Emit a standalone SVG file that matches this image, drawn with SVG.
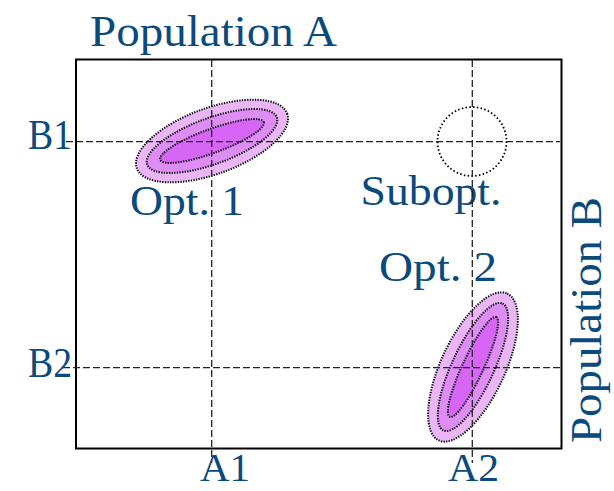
<svg xmlns="http://www.w3.org/2000/svg" width="614" height="491" viewBox="0 0 614 491">
<style>
.lbl{font-family:"Liberation Serif","DejaVu Serif",serif;fill:#0b4a7d;}
.big{font-size:45px;}
.ax{font-size:42px;}
.bot{font-size:41px;}
.grid{stroke:#222;stroke-width:1.3;stroke-dasharray:7,3;fill:none;}
.c1{fill:#eab6f8;stroke:#000;stroke-width:2;stroke-dasharray:1.3,1.3;}
.c2{fill:#dd8df5;stroke:#000;stroke-width:2;stroke-dasharray:1.3,1.3;}
.c3{fill:#d766f7;stroke:#000;stroke-width:2;stroke-dasharray:1.3,1.3;}
</style>
<rect width="614" height="491" fill="#fff"/>
<g id="frame"><rect x="76" y="59.5" width="485.5" height="389" fill="none" stroke="#000" stroke-width="2"/></g>
<g id="opt1">
<g transform="translate(212,141) rotate(-20)">
<ellipse class="c1" rx="80" ry="33"/>
<ellipse class="c2" rx="69" ry="23"/>
<ellipse class="c3" rx="55" ry="12"/>
</g>
<text class="lbl ax" x="130" y="215" textLength="114" lengthAdjust="spacingAndGlyphs">Opt. 1</text>
</g>
<g id="opt2">
<g transform="translate(473,367) rotate(-65)">
<ellipse class="c1" rx="81" ry="32"/>
<ellipse class="c2" rx="70" ry="21"/>
<ellipse class="c3" rx="55" ry="10.5"/>
</g>
<text class="lbl ax" x="379" y="281" textLength="118" lengthAdjust="spacingAndGlyphs">Opt. 2</text>
</g>
<g id="subopt">
<circle cx="472" cy="141.5" r="34.5" fill="none" stroke="#000" stroke-width="1.8" stroke-dasharray="1.5,2.3"/>
<text class="lbl ax" x="360.5" y="205" textLength="141" lengthAdjust="spacingAndGlyphs">Subopt.</text>
</g>
<g id="connectors">
<line class="grid" x1="211.7" y1="60" x2="211.7" y2="463"/>
<line class="grid" x1="472.3" y1="60" x2="472.3" y2="463"/>
<line class="grid" x1="66" y1="141.7" x2="560" y2="141.7"/>
<line class="grid" x1="63" y1="367.7" x2="560" y2="367.7"/>
</g>
<g id="labels">
<text class="lbl big" x="90" y="45.5" textLength="247" lengthAdjust="spacingAndGlyphs">Population A</text>
<text class="lbl big" transform="translate(601,443) rotate(-90)" textLength="246" lengthAdjust="spacingAndGlyphs">Population B</text>
<text class="lbl ax" x="28" y="149" textLength="44" lengthAdjust="spacingAndGlyphs">B1</text>
<text class="lbl ax" x="28" y="377" textLength="44" lengthAdjust="spacingAndGlyphs">B2</text>
<text class="lbl bot" x="200" y="481" textLength="50" lengthAdjust="spacingAndGlyphs">A1</text>
<text class="lbl bot" x="448" y="481" textLength="51" lengthAdjust="spacingAndGlyphs">A2</text>
</g>
</svg>
